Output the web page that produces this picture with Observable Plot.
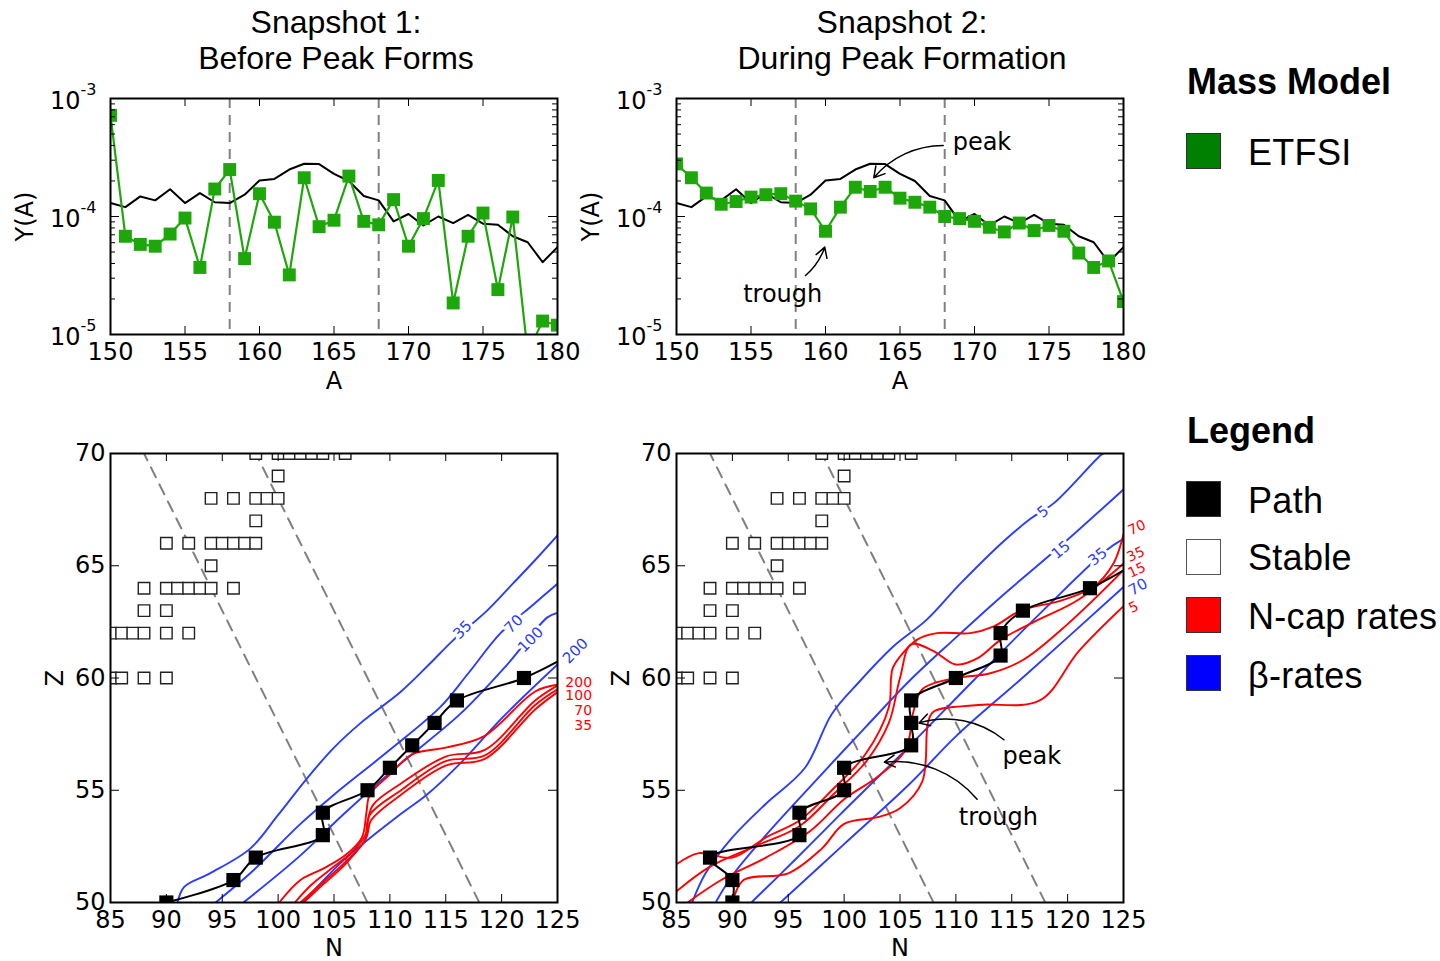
<!DOCTYPE html>
<html><head><meta charset="utf-8">
<script src="https://cdn.jsdelivr.net/npm/d3@7"></script>
<script src="https://cdn.jsdelivr.net/npm/@observablehq/plot@0.6"></script>
<style>
html,body{margin:0;padding:0;background:#fff;}
#root{position:relative;width:1440px;height:961px;overflow:hidden;font-family:"Liberation Sans",Arial,sans-serif;color:#000;}
.panel{position:absolute;}
.title{position:absolute;width:600px;text-align:center;font-size:32px;line-height:36px;white-space:nowrap;}
.lgH{position:absolute;left:1187px;font-weight:bold;font-size:36px;line-height:40px;white-space:nowrap;}
.sw{position:absolute;left:1186px;width:33px;height:34px;border:1px solid #333;}
.lgT{position:absolute;left:1248px;font-size:36px;line-height:40px;white-space:nowrap;letter-spacing:0.3px;}
</style></head>
<body><div id="root">
<div class="title" style="left:36px;top:4px">Snapshot 1:</div>
<div class="title" style="left:36px;top:40px">Before Peak Forms</div>
<div class="title" style="left:602px;top:4px">Snapshot 2:</div>
<div class="title" style="left:602px;top:40px">During Peak Formation</div>
<div class="lgH" style="top:62px">Mass Model</div>
<div class="sw" style="top:133px;background:#008000"></div>
<div class="lgT" style="top:133px">ETFSI</div>
<div class="lgH" style="top:411px">Legend</div>
<div class="sw" style="top:481px;background:#000"></div>
<div class="lgT" style="top:481px">Path</div>
<div class="sw" style="top:539px;background:#fff;border-color:#555"></div>
<div class="lgT" style="top:538px">Stable</div>
<div class="sw" style="top:597px;background:#ff0000"></div>
<div class="lgT" style="top:597px">N-cap rates</div>
<div class="sw" style="top:655px;background:#0000ff"></div>
<div class="lgT" style="top:656px">β-rates</div>
</div>
<script>
// ---------------- DATA ----------------
const massNumbers = [150,151,152,153,154,155,156,157,158,159,160,161,162,163,164,165,166,167,168,169,170,171,172,173,174,175,176,177,178,179,180];
const snapshot1Y = [7.2e-4,6.8e-5,5.8e-5,5.6e-5,7.1e-5,9.7e-5,3.7e-5,1.71e-4,2.5e-4,4.4e-5,1.56e-4,8.95e-5,3.2e-5,2.13e-4,8.2e-5,9.3e-5,2.2e-4,9.1e-5,8.5e-5,1.39e-4,5.6e-5,9.6e-5,2.02e-4,1.85e-5,6.8e-5,1.07e-4,2.4e-5,9.9e-5,7e-6,1.3e-5,1.2e-5];
const snapshot2Y = [2.79e-4,2.13e-4,1.58e-4,1.27e-4,1.34e-4,1.46e-4,1.53e-4,1.56e-4,1.35e-4,1.16e-4,7.5e-5,1.2e-4,1.77e-4,1.63e-4,1.77e-4,1.43e-4,1.32e-4,1.2e-4,1.0e-4,9.6e-5,9.1e-5,8.1e-5,7.4e-5,8.8e-5,7.6e-5,8.4e-5,7.5e-5,4.9e-5,3.7e-5,4.2e-5,1.9e-5];
const solarY = [1.3e-4,1.2e-4,1.48e-4,1.37e-4,1.7e-4,1.3e-4,1.58e-4,1.32e-4,1.3e-4,1.53e-4,2.02e-4,2.08e-4,2.5e-4,2.8e-4,2.78e-4,2.3e-4,2.0e-4,1.49e-4,1.37e-4,9.1e-5,1.05e-4,8.4e-5,1.0e-4,8.8e-5,1.03e-4,8.7e-5,8.5e-5,6.8e-5,6.05e-5,4.1e-5,5.5e-5];
const windowA = [158,168];
const aTicks = [150,155,160,165,170,175,180];
const yMajor = [1e-5,1e-4,1e-3];
const yExp = ["-5","-4","-3"];
const yMinorMult = [2,3,4,5,6,7,8,9];
const nTicks = [85,90,95,100,105,110,115,120,125];
const zTicks = [50,55,60,65,70];

// stable nuclei [N, Z]
const stableNuclei = [
 [85,60],[86,60],[88,60],[90,60],
 [85,62],[86,62],[87,62],[88,62],[90,62],[92,62],
 [88,63],[90,63],
 [88,64],[90,64],[91,64],[92,64],[93,64],[94,64],[96,64],
 [94,65],
 [90,66],[92,66],[94,66],[95,66],[96,66],[97,66],[98,66],
 [98,67],
 [94,68],[96,68],[98,68],[99,68],[100,68],
 [100,69],
 [98,70],[100,70],[101,70],[102,70],[103,70],[104,70],[106,70]
];
// r-process paths [N, Z]
const path1 = [[90,50],[96,51],[98,52],[104,53],[104,54],[108,55],[110,56],[112,57],[114,58],[116,59],[122,60],[126,61]];
const path2 = [[90,50],[90,51],[88,52],[96,53],[96,54],[100,55],[100,56],[106,57],[106,58],[106,59],[110,60],[114,61],[114,62],[116,63],[122,64],[126,65.1]];

// beta-rate contours, snapshot 1
const beta1_35 = [[91,50],[91.6,50.7],[93.9,51.3],[97.5,52.4],[100,53.9],[102.7,55.6],[105,56.9],[107.4,58.0],[111,59.4],[113.5,60.6],[115.7,61.7],[118.7,63.0],[121,64.2],[122.9,65.2],[125,66.35]];
const beta1_70 = [[94.4,50],[97.5,51.3],[102,53.5],[105,54.8],[110,56.8],[114.5,58.7],[117,60.2],[119.9,62],[122.9,63.3],[125,64.2]];
const beta1_100 = [[96.9,50],[102,52.1],[105.9,53.95],[111,56.2],[116.3,58.4],[120.5,60.6],[124.1,62.7],[125,62.9]];
const beta1_200 = [[102.2,50],[105.9,51.9],[111,53.95],[113.3,54.8],[116.3,56.2],[120,58.2],[125,60.6]];
// neutron-capture contours, snapshot 1
const ncap1_200 = [[100.1,50],[102,51],[104,51.5],[106,52.1],[107.5,52.9],[107.9,54],[108.2,54.8],[110,55.7],[112,56.6],[115,56.9],[118.4,57.4],[123,59.4],[125,59.7]];
const ncap1_100 = [[101.5,50],[103,50.8],[105,51.6],[106.5,52.2],[107.8,53],[108,53.6],[108.5,54.35],[111,55.3],[115,56.5],[118.5,56.8],[123,59],[125,59.66]];
const ncap1_70 = [[102,50],[104,50.9],[106,51.8],[107.8,52.8],[108.2,53.9],[111,55],[115,56.3],[118.5,56.55],[123,58.8],[125,59.5]];
const ncap1_35 = [[102.3,50],[104,50.8],[106,51.7],[107.9,52.9],[108.3,53.65],[111,54.8],[115,56.1],[118.5,56.4],[123,58.6],[125,59.37]];
// beta-rate contours, snapshot 2
const beta2_5 = [[86.4,50],[87.6,51.3],[90,52.9],[93,54.4],[96.5,56],[98.9,58.4],[101.3,59.8],[104.4,61.4],[107.4,62.6],[110.4,64.2],[114.3,66.1],[116.7,67.1],[118.8,67.8],[122.9,69.9],[123.2,70]];
const beta2_15 = [[88.5,50],[90,51.2],[93,53],[97.4,55.4],[101.9,57.8],[105.9,59.9],[110,61.8],[114,63.6],[119.4,65.9],[125,68.4]];
const beta2_35 = [[91.7,50],[95.7,51.95],[99.7,53.95],[105.7,56.9],[111.6,59.9],[118.2,63.2],[123.5,65.7],[125,66.2]];
const beta2_70 = [[94.3,50],[100,52.6],[105.9,55.3],[110,57.4],[116.4,60.2],[125,64.05]];
// neutron-capture contours, snapshot 2
const ncap2_70 = [[85,51.7],[87,52.2],[90,52],[93,52.9],[96,53.65],[98.9,55],[101.9,56.6],[104,58.7],[104.2,60],[104.4,60.5],[106.5,61.7],[108.3,62],[111.3,62],[113.4,62.3],[115.8,63],[119.4,63.45],[122.3,64.05],[124.1,65.1],[125,66.4]];
const ncap2_35 = [[85,50.5],[88,51.6],[92,52.5],[96,53.4],[99,54.8],[102,56.3],[104,58],[105,60],[106,61.5],[108,61.2],[110,60.6],[112,60.9],[114,61.7],[117,62.5],[121,63.5],[125,65.1]];
const ncap2_15 = [[86,50],[89,51],[93,52],[97,53.2],[100,54.6],[103,55.6],[105.5,56.8],[106.2,58.5],[107,59.5],[110,60],[113,60.2],[116,60.8],[120,62.4],[125,64.8]];
const ncap2_5 = [[90,50],[91,51],[95,51.3],[98,52.4],[100,53.5],[103,53.8],[105,54.2],[107,55.4],[107.5,58],[108,58.5],[112,58.8],[117.5,59],[121,61.2],[125,63.2]];

// contour labels [N, Z, text, rotate]
const betaLabels1 = [[116.5,62.15,"35",-45],[121.1,62.4,"70",-45],[122.6,61.7,"100",-45],[126.6,61.2,"200",-45]];
const ncapLabels1 = [[126.9,59.8,"200",0],[126.9,59.2,"100",0],[127.3,58.55,"70",0],[127.3,57.9,"35",0]];
const betaLabels2 = [[117.8,67.4,"5",-40],[119.4,65.7,"15",-40],[122.7,65.4,"35",-40],[126.3,64.05,"70",-30]];
const ncapLabels2 = [[126.2,66.7,"70",-25],[126.1,65.5,"35",-25],[126.2,64.8,"15",-25],[125.9,63.15,"5",-25]];

// annotations
const topNotes2 = [{text:"peak", a:170.5, y:4.26e-4}, {text:"trough", a:157.13, y:2.2e-5}];
const topPeakArrow = [{a1:167.9, y1:4.0e-4, a2:163.24, y2:2.13e-4}];
const topTroughArrow = [{a1:158.66, y1:3.16e-5, a2:159.95, y2:5.5e-5}];
const botNotes2 = [{text:"peak", n:116.8, z:56.5}, {text:"trough", n:113.8, z:53.8}];
const botArrows2 = [{n1:114.3, z1:57.25, n2:106.7, z2:58.0}, {n1:111.9, z1:54.6, n2:103.6, z2:56.25}];

// ---------------- DRAWING ----------------
const GREEN = "#1ea70a";
const BLUE = "#2a3cff";
const RED = "#ff0000";
const TICKFONT = "DejaVu Sans";
const FS = 24;

function topPanel(yields, withNotes) {
  const W = 600, H = 320, mL = 110, mR = 43, mT = 18, mB = 66;
  const pw = W - mL - mR, ph = H - mT - mB;
  const rows = massNumbers.map((a, i) => ({a, y: yields[i]}));
  const ref = massNumbers.map((a, i) => ({a, y: solarY[i]}));
  const minor = yMajor.slice(0, 2).flatMap(m => yMinorMult.map(k => m * k));
  const marks = [
    Plot.ruleX(windowA, {x: d => d, stroke: "#808080", strokeWidth: 2, strokeDasharray: "10,7"}),
    Plot.line(ref, {x: "a", y: "y", stroke: "black", strokeWidth: 2, clip: true}),
    Plot.line(rows, {x: "a", y: "y", stroke: GREEN, strokeWidth: 2.2, clip: true}),
    Plot.dot(rows, {x: "a", y: "y", symbol: "square", r: 7.3, fill: GREEN, clip: true}),
    Plot.tickX(aTicks, {x: d => d, insetTop: ph - 8, stroke: "black", strokeWidth: 1}),
    Plot.tickX(aTicks, {x: d => d, insetBottom: ph - 8, stroke: "black", strokeWidth: 1}),
    Plot.tickY(yMajor, {y: d => d, insetRight: pw - 9, stroke: "black", strokeWidth: 1}),
    Plot.tickY(yMajor, {y: d => d, insetLeft: pw - 9, stroke: "black", strokeWidth: 1}),
    Plot.tickY(minor, {y: d => d, insetRight: pw - 5, stroke: "black", strokeWidth: 1}),
    Plot.tickY(minor, {y: d => d, insetLeft: pw - 5, stroke: "black", strokeWidth: 1}),
    Plot.frame({stroke: "black", strokeWidth: 2}),
    Plot.text(aTicks, {x: d => d, frameAnchor: "bottom", lineAnchor: "middle", dy: 18, text: d => String(d), fontSize: FS, fill: "black"}),
    Plot.text(yMajor, {y: d => d, frameAnchor: "left", lineAnchor: "middle", dx: -30, dy: 3, textAnchor: "end", text: () => "10", fontSize: FS, fill: "black"}),
    Plot.text(yMajor, {y: d => d, frameAnchor: "left", lineAnchor: "middle", dx: -14, dy: -9, textAnchor: "end", text: (d, i) => yExp[i], fontSize: 16, fill: "black"}),
    Plot.text(["A"], {frameAnchor: "bottom", lineAnchor: "middle", dy: 47, text: d => d, fontSize: FS, fill: "black"}),
    Plot.text(["Y(A)"], {frameAnchor: "left", textAnchor: "middle", lineAnchor: "middle", dx: -85, rotate: -90, text: d => d, fontSize: FS, fill: "black"})
  ];
  if (withNotes) {
    marks.push(Plot.arrow(topPeakArrow, {x1: "a1", y1: "y1", x2: "a2", y2: "y2", bend: -25, stroke: "black", strokeWidth: 1.5, headLength: 12}));
    marks.push(Plot.arrow(topTroughArrow, {x1: "a1", y1: "y1", x2: "a2", y2: "y2", bend: -15, stroke: "black", strokeWidth: 1.5, headLength: 12}));
    marks.push(Plot.text(topNotes2, {x: "a", y: "y", text: "text", fontSize: FS, fill: "black"}));
  }
  return Plot.plot({
    width: W, height: H, marginLeft: mL, marginRight: mR, marginTop: mT, marginBottom: mB,
    style: {background: "transparent", overflow: "visible", fontFamily: TICKFONT},
    x: {domain: [150, 180], axis: null},
    y: {type: "log", domain: [1e-5, 1e-3], axis: null},
    marks
  });
}

function toRows(series) {
  return series.flatMap(([name, pts]) => pts.map(([n, z]) => ({name, n, z})));
}

function bottomPanel(path, betas, ncaps, betaLbl, ncapLbl, withNotes) {
  const W = 620, H = 531, mL = 110, mR = 63, mT = 23, mB = 59;
  const pw = W - mL - mR, ph = H - mT - mB;
  const pathRows = path.map(([n, z]) => ({n, z}));
  const stableRows = stableNuclei.map(([n, z]) => ({n, z}));
  const dashRows = windowA.flatMap(a => [{a, n: a - 50, z: 50}, {a, n: a - 70, z: 70}]);
  const marks = [
    Plot.line(dashRows, {x: "n", y: "z", z: "a", stroke: "#808080", strokeWidth: 2, strokeDasharray: "11,8", clip: true}),
    Plot.dot(stableRows, {x: "n", y: "z", symbol: "square", r: 6.5, fill: "white", stroke: "#222", strokeWidth: 1.4, clip: true}),
    Plot.line(toRows(betas), {x: "n", y: "z", z: "name", stroke: BLUE, strokeWidth: 1.9, curve: "catmull-rom", clip: true}),
    Plot.line(toRows(ncaps), {x: "n", y: "z", z: "name", stroke: RED, strokeWidth: 1.9, curve: "catmull-rom", clip: true}),
    Plot.text(betaLbl, {x: d => d[0], y: d => d[1], text: d => d[2], rotate: d => d[3], fill: BLUE, stroke: "white", strokeWidth: 6, fontSize: 15}),
    Plot.text(ncapLbl, {x: d => d[0], y: d => d[1], text: d => d[2], rotate: d => d[3], fill: RED, fontSize: 14}),
    Plot.line(pathRows, {x: "n", y: "z", stroke: "black", strokeWidth: 2, curve: "catmull-rom", clip: true}),
    Plot.dot(pathRows, {x: "n", y: "z", symbol: "square", r: 8, fill: "black", clip: true}),
    Plot.tickX(nTicks, {x: d => d, insetTop: ph - 8, stroke: "black", strokeWidth: 1}),
    Plot.tickX(nTicks, {x: d => d, insetBottom: ph - 8, stroke: "black", strokeWidth: 1}),
    Plot.tickY(zTicks, {y: d => d, insetRight: pw - 9, stroke: "black", strokeWidth: 1}),
    Plot.tickY(zTicks, {y: d => d, insetLeft: pw - 9, stroke: "black", strokeWidth: 1}),
    Plot.frame({stroke: "black", strokeWidth: 2}),
    Plot.text(nTicks, {x: d => d, frameAnchor: "bottom", lineAnchor: "middle", dy: 18, text: d => String(d), fontSize: FS, fill: "black"}),
    Plot.text(zTicks, {y: d => d, frameAnchor: "left", lineAnchor: "middle", dx: -5, textAnchor: "end", text: d => String(d), fontSize: FS, fill: "black"}),
    Plot.text(["N"], {frameAnchor: "bottom", lineAnchor: "middle", dy: 46, text: d => d, fontSize: FS, fill: "black"}),
    Plot.text(["Z"], {frameAnchor: "left", textAnchor: "middle", lineAnchor: "middle", dx: -55, rotate: -90, text: d => d, fontSize: FS, fill: "black"})
  ];
  if (withNotes) {
    marks.push(Plot.arrow(botArrows2, {x1: "n1", y1: "z1", x2: "n2", y2: "z2", bend: -28, stroke: "black", strokeWidth: 1.5, headLength: 12}));
    marks.push(Plot.text(botNotes2, {x: "n", y: "z", text: "text", fontSize: FS, fill: "black"}));
  }
  return Plot.plot({
    width: W, height: H, marginLeft: mL, marginRight: mR, marginTop: mT, marginBottom: mB,
    style: {background: "transparent", overflow: "visible", fontFamily: TICKFONT},
    x: {domain: [85, 125], axis: null},
    y: {domain: [50, 70], axis: null},
    marks
  });
}

function place(el, left, top) {
  const d = document.createElement("div");
  d.className = "panel";
  d.style.left = left + "px";
  d.style.top = top + "px";
  d.appendChild(el);
  document.getElementById("root").appendChild(d);
}

place(topPanel(snapshot1Y, false), 0, 80);
place(topPanel(snapshot2Y, true), 566, 80);
place(bottomPanel(path1,
  [["35", beta1_35], ["70", beta1_70], ["100", beta1_100], ["200", beta1_200]],
  [["200", ncap1_200], ["100", ncap1_100], ["70", ncap1_70], ["35", ncap1_35]],
  betaLabels1, ncapLabels1, false), 0, 430);
place(bottomPanel(path2,
  [["5", beta2_5], ["15", beta2_15], ["35", beta2_35], ["70", beta2_70]],
  [["70", ncap2_70], ["35", ncap2_35], ["15", ncap2_15], ["5", ncap2_5]],
  betaLabels2, ncapLabels2, true), 566, 430);
</script>
</body></html>
